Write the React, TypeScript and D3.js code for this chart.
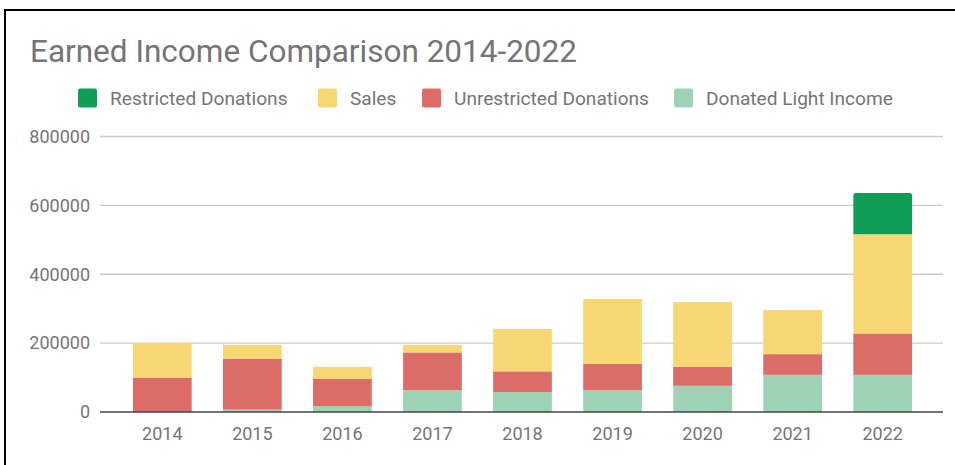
import React from "react";
import * as d3 from "d3";

const years = ["2014", "2015", "2016", "2017", "2018", "2019", "2020", "2021", "2022"];
const donatedLight = [0, 7000, 17000, 63000, 58000, 63000, 76000, 108000, 108000];
const unrestricted = [100000, 148000, 79000, 110000, 60000, 77000, 55000, 60000, 120000];
const sales = [100000, 40000, 35000, 22000, 123000, 188000, 188000, 128000, 288000];
const restricted = [0, 0, 0, 0, 0, 0, 0, 0, 120000];
const yTicks = [0, 200000, 400000, 600000, 800000];

const seriesKeys = ["Donated Light Income", "Unrestricted Donations", "Sales", "Restricted Donations"];
const legendOrder = ["Restricted Donations", "Sales", "Unrestricted Donations", "Donated Light Income"];
const colors: Record<string, string> = {
  "Restricted Donations": "#0f9d58",
  "Sales": "#f7d774",
  "Unrestricted Donations": "#db6c67",
  "Donated Light Income": "#9dd3b4",
};
const legendX = [78, 318, 422, 674];

const W = 955;
const H = 465;
const FONT = "Roboto, 'Noto Sans', sans-serif";

export default function App() {
  const rows = years.map((y, i) => ({
    year: y,
    "Donated Light Income": donatedLight[i],
    "Unrestricted Donations": unrestricted[i],
    "Sales": sales[i],
    "Restricted Donations": restricted[i],
  }));
  const stacked = d3.stack<any>().keys(seriesKeys)(rows);

  const x = d3.scaleBand<string>().domain(years).range([117.3, 927.7]).paddingInner(0.348).paddingOuter(0.174);
  const y = d3.scaleLinear().domain([0, 800000]).range([412, 136.5]);
  const gridX0 = 100;
  const gridX1 = 943;

  const topRounded = (x0: number, y0: number, w: number, h: number, r: number) => {
    const rr = Math.min(r, h / 2, w / 2);
    return `M${x0},${y0 + h}V${y0 + rr}Q${x0},${y0} ${x0 + rr},${y0}H${x0 + w - rr}Q${x0 + w},${y0} ${x0 + w},${y0 + rr}V${y0 + h}Z`;
  };

  return (
    <svg
      width={W}
      height={H}
      style={{ position: "absolute", left: 0, top: 0, background: "#fff" }}
      fontFamily={FONT}
    >
      <rect x={0} y={0} width={W} height={H} fill="#fff" />
      {/* frame */}
      <rect x={4} y={9} width={W - 4} height={2} fill="#000" />
      <rect x={4} y={9} width={2} height={H - 9} fill="#000" />

      <text x={30} y={61.5} fontSize={31.5} fill="#757575">
        Earned Income Comparison 2014-2022
      </text>

      {legendOrder.map((k, i) => (
        <g key={k}>
          <rect x={legendX[i]} y={88.5} width={19} height={19} rx={2} fill={colors[k]} />
          <text x={legendX[i] + 32} y={104.5} fontSize={19.1} fill="#757575">
            {k}
          </text>
        </g>
      ))}

      {yTicks.map((t) => (
        <g key={t}>
          {t !== 0 && (
            <line x1={gridX0} x2={gridX1} y1={y(t)} y2={y(t)} stroke="#cccccc" strokeWidth={1.3} />
          )}
          <text x={90} y={y(t)} dy="0.35em" textAnchor="end" fontSize={18} fill="#757575">
            {t}
          </text>
        </g>
      ))}

      {stacked.map((s) => (
        <g key={s.key} fill={colors[s.key]}>
          {s.map((d, i) => {
            const h = y(d[0]) - y(d[1]);
            if (h <= 0) return null;
            const bx = x(years[i]) as number;
            const bw = x.bandwidth();
            if (s.key === "Restricted Donations") {
              return <path key={i} d={topRounded(bx, y(d[1]), bw, h, 2.5)} />;
            }
            return <rect key={i} x={bx} y={y(d[1])} width={bw} height={h} />;
          })}
        </g>
      ))}

      <line x1={gridX0} x2={gridX1} y1={y(0)} y2={y(0)} stroke="#444444" strokeWidth={1.5} />

      {years.map((yr) => (
        <text
          key={yr}
          x={(x(yr) as number) + x.bandwidth() / 2}
          y={440}
          textAnchor="middle"
          fontSize={18}
          fill="#757575"
        >
          {yr}
        </text>
      ))}
    </svg>
  );
}
